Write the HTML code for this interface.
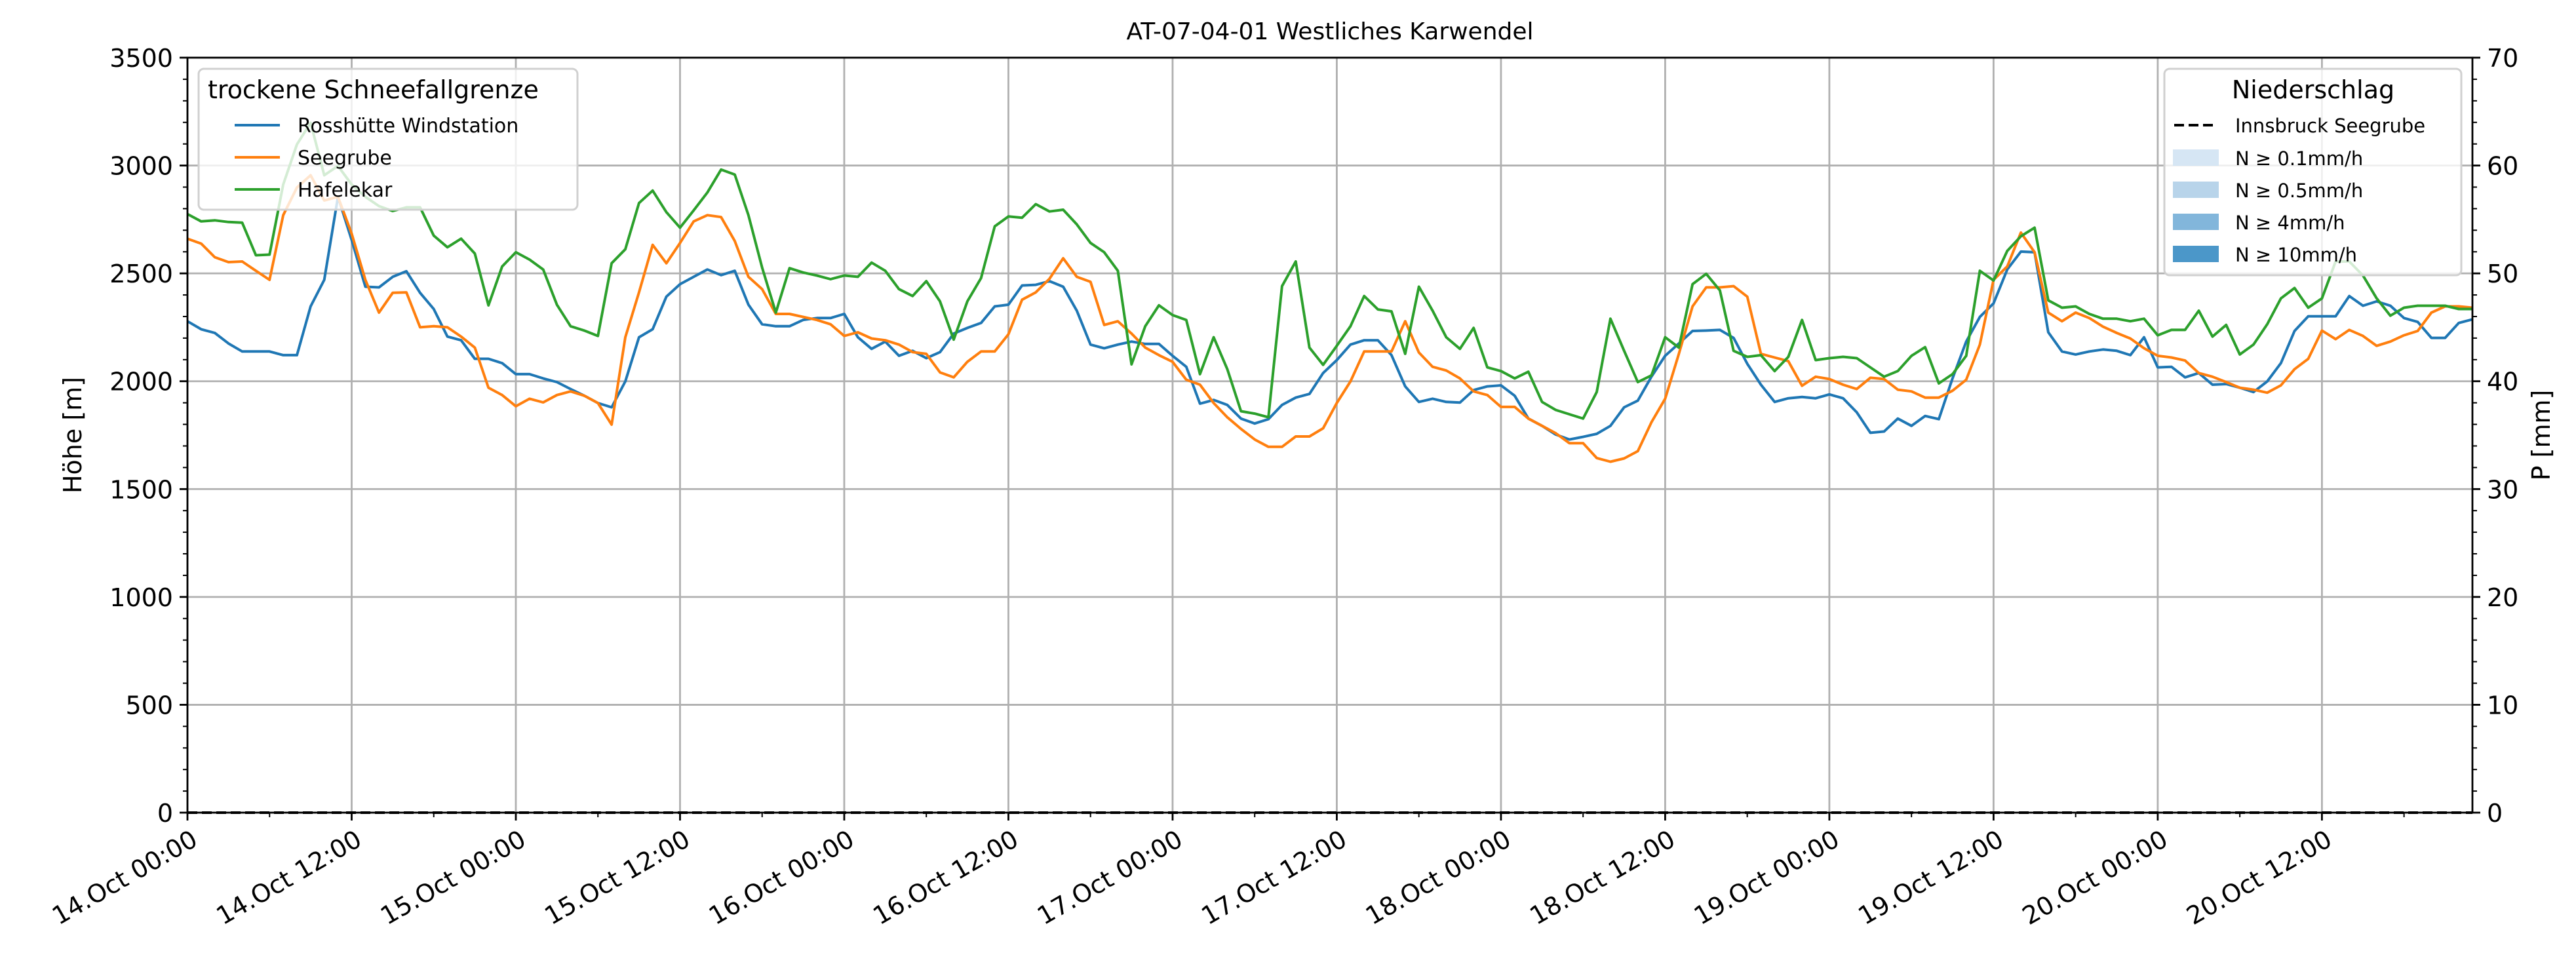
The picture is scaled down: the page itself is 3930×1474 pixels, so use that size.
<!DOCTYPE html>
<html><head><meta charset="utf-8"><style>
html,body{margin:0;padding:0;background:#fff;}
svg{display:block;font-family:"DejaVu Sans","Liberation Sans",sans-serif;}
</style></head><body>
<svg id="chart" width="3930" height="1474" viewBox="0 0 3930 1474" xmlns="http://www.w3.org/2000/svg">
<rect x="0" y="0" width="3930" height="1474" fill="#fff"/>
<text x="2029" y="60" font-size="36" text-anchor="middle" fill="#000">AT-07-04-01 Westliches Karwendel</text>
<g id="grid"></g>
<g id="series"></g>
<g id="axes"></g>
<text transform="translate(124,664) rotate(-90)" font-size="38" text-anchor="middle">Höhe [m]</text>
<text transform="translate(3890,664) rotate(-90)" font-size="38" text-anchor="middle">P [mm]</text>
<g id="legend-left">
<rect x="303" y="105" width="578" height="215" rx="8" fill="#fff" fill-opacity="0.8" stroke="#d0d0d0" stroke-width="3"/>
<text x="317" y="150" font-size="38">trockene Schneefallgrenze</text>
<line x1="358" y1="191" x2="427" y2="191" stroke="#1f77b4" stroke-width="4"/>
<text x="454" y="202" font-size="30">Rosshütte Windstation</text>
<line x1="358" y1="240" x2="427" y2="240" stroke="#ff7f0e" stroke-width="4"/>
<text x="454" y="251" font-size="30">Seegrube</text>
<line x1="358" y1="289" x2="427" y2="289" stroke="#2ca02c" stroke-width="4"/>
<text x="454" y="300" font-size="30">Hafelekar</text>
</g>
<g id="legend-right">
<rect x="3302" y="105" width="453" height="315" rx="8" fill="#fff" fill-opacity="0.8" stroke="#d0d0d0" stroke-width="3"/>
<text x="3529" y="150" font-size="38" text-anchor="middle">Niederschlag</text>
<line x1="3317" y1="191" x2="3376" y2="191" stroke="#000" stroke-width="4" stroke-dasharray="15,7"/>
<text x="3410" y="202" font-size="29">Innsbruck Seegrube</text>
<rect x="3315" y="228" width="70" height="25" fill="#d6e6f4"/>
<text x="3410" y="252" font-size="29">N ≥ 0.1mm/h</text>
<rect x="3315" y="277" width="70" height="25" fill="#b8d4ea"/>
<text x="3410" y="301" font-size="29">N ≥ 0.5mm/h</text>
<rect x="3315" y="326" width="70" height="25" fill="#82b6db"/>
<text x="3410" y="350" font-size="29">N ≥ 4mm/h</text>
<rect x="3315" y="375" width="70" height="25" fill="#4b97c9"/>
<text x="3410" y="399" font-size="29">N ≥ 10mm/h</text>
</g>
</svg>
<script>
const rosshuette=[2278,2241,2224,2175,2138,2138,2138,2121,2121,2347,2470,2855,2655,2438,2435,2484,2510,2410,2335,2207,2190,2104,2104,2084,2033,2033,2013,1996,1964,1933,1899,1879,1999,2204,2241,2392,2450,2484,2518,2492,2512,2355,2264,2255,2255,2284,2293,2293,2312,2204,2150,2184,2118,2141,2107,2135,2221,2247,2270,2347,2355,2444,2447,2464,2438,2327,2170,2153,2170,2184,2173,2173,2118,2067,1896,1913,1890,1827,1804,1824,1890,1924,1941,2038,2098,2170,2190,2190,2121,1976,1904,1919,1904,1901,1959,1976,1981,1933,1827,1793,1753,1730,1742,1756,1793,1879,1910,2021,2118,2175,2233,2235,2238,2201,2081,1984,1904,1921,1927,1921,1939,1921,1856,1761,1767,1827,1793,1839,1824,2013,2184,2298,2361,2518,2601,2598,2227,2138,2124,2138,2147,2141,2121,2204,2064,2067,2018,2038,1984,1987,1970,1950,1999,2084,2233,2301,2301,2301,2395,2350,2370,2350,2293,2275,2201,2201,2270,2287];
const seegrube=[2661,2638,2575,2552,2555,2512,2470,2770,2898,2955,2838,2855,2684,2470,2318,2410,2412,2250,2255,2250,2207,2156,1970,1936,1884,1919,1902,1936,1953,1933,1899,1799,2204,2412,2632,2547,2641,2741,2770,2761,2650,2484,2427,2312,2312,2298,2284,2264,2210,2227,2198,2190,2170,2135,2127,2041,2018,2090,2138,2138,2218,2378,2412,2475,2570,2484,2461,2261,2278,2221,2156,2121,2090,2007,1984,1899,1833,1779,1730,1696,1696,1744,1744,1782,1899,1999,2138,2138,2138,2278,2133,2067,2050,2013,1953,1936,1881,1881,1827,1793,1759,1713,1713,1644,1627,1642,1676,1810,1919,2127,2347,2435,2435,2441,2392,2127,2110,2093,1979,2021,2010,1984,1964,2016,2010,1961,1953,1924,1924,1956,2007,2170,2470,2532,2689,2598,2318,2278,2318,2293,2253,2224,2198,2153,2118,2110,2096,2038,2021,1996,1970,1961,1947,1981,2056,2104,2235,2195,2238,2210,2164,2184,2213,2233,2318,2347,2347,2341];
const hafelekar=[2775,2741,2746,2738,2735,2584,2587,2912,3098,3198,2955,2998,2912,2855,2812,2789,2806,2806,2675,2621,2661,2592,2352,2532,2598,2564,2518,2355,2255,2235,2210,2547,2612,2826,2884,2784,2712,2792,2875,2981,2958,2770,2527,2318,2524,2504,2490,2473,2490,2484,2550,2512,2427,2395,2464,2370,2193,2370,2478,2718,2764,2758,2821,2787,2795,2727,2641,2598,2512,2078,2255,2352,2307,2284,2033,2204,2056,1861,1850,1833,2441,2555,2156,2076,2164,2255,2395,2333,2324,2127,2438,2327,2204,2150,2247,2064,2047,2013,2044,1904,1867,1847,1827,1950,2290,2141,1996,2027,2204,2156,2450,2498,2421,2141,2113,2121,2047,2113,2284,2098,2107,2113,2107,2064,2021,2047,2118,2158,1990,2033,2118,2512,2467,2604,2672,2712,2375,2341,2347,2312,2290,2290,2278,2290,2213,2238,2238,2327,2207,2261,2124,2170,2264,2384,2432,2341,2384,2555,2555,2490,2384,2304,2341,2350,2350,2350,2335,2335];
const precipSeegrube=[0,0,0,0,0,0,0,0];
const yTicks=[0,500,1000,1500,2000,2500,3000,3500];
const y2Ticks=[0,10,20,30,40,50,60,70];
const xTickLabels=["14.Oct 00:00","14.Oct 12:00","15.Oct 00:00","15.Oct 12:00","16.Oct 00:00","16.Oct 12:00","17.Oct 00:00","17.Oct 12:00","18.Oct 00:00","18.Oct 12:00","19.Oct 00:00","19.Oct 12:00","20.Oct 00:00","20.Oct 12:00"];

const L=286,R=3772,T=88,B=1240,XMAX=167,YMAX=3500,Y2MAX=70;
const xs=h=>L+(R-L)*h/XMAX;
const ys=v=>B-(B-T)*v/YMAX;
const y2s=v=>B-(B-T)*v/Y2MAX;
const NS="http://www.w3.org/2000/svg";
function mk(tag,attrs,parent){const e=document.createElementNS(NS,tag);for(const k in attrs)e.setAttribute(k,attrs[k]);parent.appendChild(e);return e;}
const grid=document.getElementById('grid'),axes=document.getElementById('axes'),ser=document.getElementById('series');

yTicks.forEach(v=>{const l=mk('line',{x1:L,x2:R,y1:ys(v),y2:ys(v),stroke:'#b0b0b0','stroke-width':2.8},grid);


const t=mk('text',{x:L-22,y:ys(v)+14,'font-size':38,'text-anchor':'end'},axes);t.textContent=v;


mk('line',{x1:L-12,x2:L,y1:ys(v),y2:ys(v),stroke:'#000','stroke-width':2.8},axes);});
for(let v=0;v<=YMAX;v+=100){mk('line',{x1:L-7,x2:L,y1:ys(v),y2:ys(v),stroke:'#000','stroke-width':2},axes);}
y2Ticks.forEach(v=>{const t=mk('text',{x:R+22,y:y2s(v)+14,'font-size':38},axes);t.textContent=v;


mk('line',{x1:R,x2:R+12,y1:y2s(v),y2:y2s(v),stroke:'#000','stroke-width':2.8},axes);});
for(let v=0;v<=Y2MAX;v+=2){mk('line',{x1:R,x2:R+7,y1:y2s(v),y2:y2s(v),stroke:'#000','stroke-width':2},axes);}
xTickLabels.forEach((lab,i)=>{const x=xs(i*12);
const l=mk('line',{x1:x,x2:x,y1:T,y2:B,stroke:'#b0b0b0','stroke-width':2.8},grid);


mk('line',{x1:x,x2:x,y1:B,y2:B+12,stroke:'#000','stroke-width':2.8},axes);
const t=mk('text',{transform:`translate(${x+4},${B+24}) rotate(-30)`,'font-size':38,'text-anchor':'end','dominant-baseline':'hanging'},axes);t.textContent=lab;

});
for(let h=6;h<=XMAX;h+=12){mk('line',{x1:xs(h),x2:xs(h),y1:B,y2:B+7,stroke:'#000','stroke-width':2},axes);}
mk('rect',{x:L,y:T,width:R-L,height:B-T,fill:'none',stroke:'#000','stroke-width':2.8},axes);

function line(data,color,name){const d=data.map((v,i)=>(i?'L':'M')+xs(i).toFixed(1)+','+ys(v).toFixed(1)).join('');
const p=mk('path',{d:d,fill:'none',stroke:color,'stroke-width':4,'stroke-linejoin':'round'},ser);

}
line(rosshuette,'#1f77b4','line-rosshuette');
line(seegrube,'#ff7f0e','line-seegrube');
line(hafelekar,'#2ca02c','line-hafelekar');
const pd=precipSeegrube.map((v,i)=>(i?'L':'M')+xs(i*XMAX/(precipSeegrube.length-1)).toFixed(1)+','+y2s(v).toFixed(1)).join('');
const pp=mk('path',{d:pd,fill:'none',stroke:'#000','stroke-width':4,'stroke-dasharray':'15,7'},ser);


</script>
</body></html>
